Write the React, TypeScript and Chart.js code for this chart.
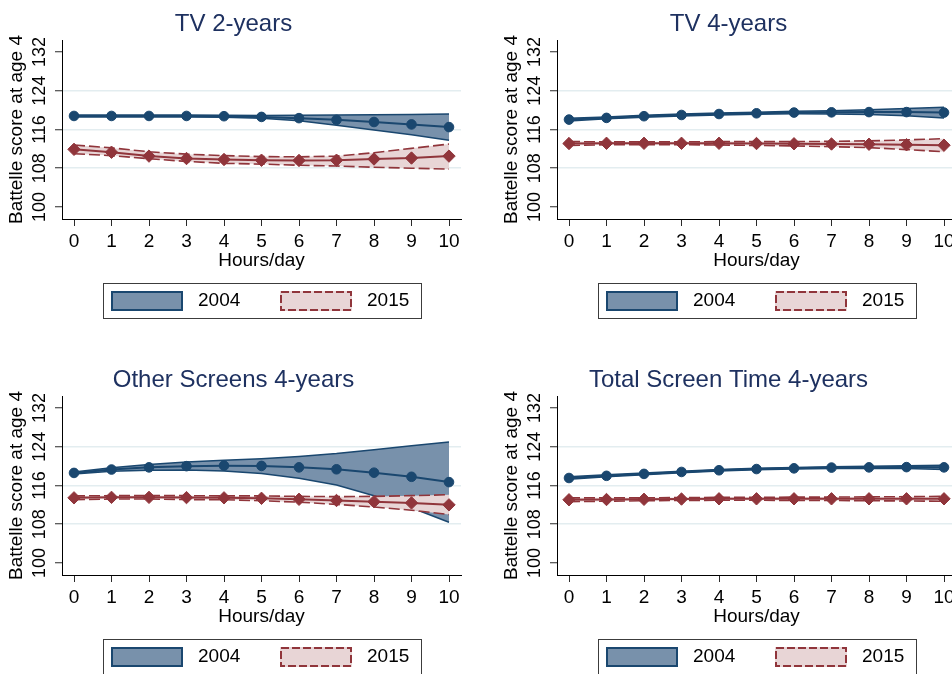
import React, { useEffect, useRef } from "react";
import { Chart, registerables } from "chart.js";

Chart.register(...registerables);

// ---------- data ----------
const hours = [0, 1, 2, 3, 4, 5, 6, 7, 8, 9, 10];
const yTickValues = [100, 108, 116, 124, 132];
const yGridValues = [108, 116, 124];
const yMin = 97.5;
const yMax = 134.5;
const xMin = -0.32;
const xMax = 10.32;

const legendLabels = ["2004", "2015"];
const yAxisTitle = "Battelle score at age 4";
const xAxisTitle = "Hours/day";
const panelTitles = ["TV 2-years", "TV 4-years", "Other Screens 4-years", "Total Screen Time 4-years"];

// TV 2-years
const tv2Mean2004 = [118.8, 118.8, 118.8, 118.8, 118.75, 118.6, 118.35, 118.0, 117.55, 117.05, 116.5];
const tv2Hi2004 = [119.0, 119.0, 119.0, 119.0, 118.95, 118.9, 118.95, 119.0, 119.05, 119.1, 119.2];
const tv2Lo2004 = [118.6, 118.6, 118.6, 118.6, 118.55, 118.3, 117.8, 116.9, 115.9, 114.9, 113.8];
const tv2Mean2015 = [111.9, 111.3, 110.5, 110.0, 109.8, 109.65, 109.6, 109.65, 109.9, 110.1, 110.5];
const tv2Hi2015 = [112.8, 112.2, 111.4, 110.9, 110.6, 110.4, 110.35, 110.5, 111.2, 112.1, 113.0];
const tv2Lo2015 = [111.0, 110.6, 109.95, 109.4, 109.0, 108.85, 108.6, 108.45, 108.2, 108.0, 107.8];

// TV 4-years
const tv4Mean2004 = [118.05, 118.4, 118.75, 119.0, 119.2, 119.35, 119.5, 119.55, 119.6, 119.6, 119.5];
const tv4Hi2004 = [118.35, 118.6, 118.95, 119.2, 119.4, 119.55, 119.75, 119.9, 120.1, 120.35, 120.6];
const tv4Lo2004 = [117.75, 118.2, 118.55, 118.8, 119.0, 119.15, 119.25, 119.2, 119.1, 118.85, 118.4];
const tv4Mean2015 = [113.1, 113.15, 113.15, 113.15, 113.15, 113.1, 113.05, 113.0, 112.95, 112.85, 112.75];
const tv4Hi2015 = [113.5, 113.45, 113.45, 113.45, 113.5, 113.5, 113.5, 113.55, 113.65, 113.85, 114.1];
const tv4Lo2015 = [112.7, 112.85, 112.85, 112.85, 112.8, 112.7, 112.6, 112.45, 112.25, 111.85, 111.4];

// Other Screens 4-years
const osMean2004 = [118.6, 119.3, 119.75, 120.0, 120.1, 120.05, 119.75, 119.35, 118.65, 117.8, 116.7];
const osHi2004 = [118.8, 119.65, 120.35, 120.85, 121.2, 121.55, 122.0, 122.6, 123.4, 124.2, 125.0];
const osLo2004 = [118.4, 118.95, 119.15, 119.2, 119.0, 118.5, 117.5, 116.1, 113.9, 111.4, 108.4];
const osMean2015 = [113.45, 113.55, 113.55, 113.5, 113.45, 113.35, 113.15, 112.9, 112.65, 112.4, 112.0];
const osHi2015 = [113.85, 113.9, 113.9, 113.9, 113.85, 113.85, 113.75, 113.7, 113.75, 113.9, 114.1];
const osLo2015 = [113.05, 113.2, 113.2, 113.1, 113.05, 112.85, 112.55, 112.1, 111.55, 110.9, 110.0];

// Total Screen Time 4-years
const tsMean2004 = [117.55, 118.0, 118.4, 118.8, 119.15, 119.4, 119.55, 119.7, 119.75, 119.8, 119.75];
const tsHi2004 = [117.8, 118.2, 118.6, 118.95, 119.3, 119.55, 119.7, 119.9, 120.0, 120.1, 120.2];
const tsLo2004 = [117.3, 117.8, 118.2, 118.65, 119.0, 119.25, 119.4, 119.5, 119.5, 119.5, 119.3];
const tsMean2015 = [113.05, 113.1, 113.15, 113.2, 113.25, 113.25, 113.25, 113.25, 113.25, 113.25, 113.25];
const tsHi2015 = [113.45, 113.45, 113.45, 113.5, 113.55, 113.55, 113.6, 113.6, 113.65, 113.7, 113.75];
const tsLo2015 = [112.65, 112.75, 112.85, 112.9, 112.95, 112.95, 112.9, 112.9, 112.85, 112.8, 112.75];

// ---------- styles ----------
const FONT = '"Liberation Sans", Arial, Helvetica, sans-serif';
const NAVY = "#1a476f";
const MAROON = "#90353b";
const BLUE_FILL = "#7891ab";
const PINK_FILL = "#e8d5d6";
const GRID = "#e3edf0";
const TITLE_COLOR = "#1e3160";
const PANEL_W = 495;
const PANEL_H = 356;

const panels = [
  { title: panelTitles[0], m04: tv2Mean2004, hi04: tv2Hi2004, lo04: tv2Lo2004, m15: tv2Mean2015, hi15: tv2Hi2015, lo15: tv2Lo2015, col: 0, row: 0 },
  { title: panelTitles[1], m04: tv4Mean2004, hi04: tv4Hi2004, lo04: tv4Lo2004, m15: tv4Mean2015, hi15: tv4Hi2015, lo15: tv4Lo2015, col: 1, row: 0 },
  { title: panelTitles[2], m04: osMean2004, hi04: osHi2004, lo04: osLo2004, m15: osMean2015, hi15: osHi2015, lo15: osLo2015, col: 0, row: 1 },
  { title: panelTitles[3], m04: tsMean2004, hi04: tsHi2004, lo04: tsLo2004, m15: tsMean2015, hi15: tsHi2015, lo15: tsLo2015, col: 1, row: 1 },
];

type PanelData = (typeof panels)[number];

function Panel({ p }: { p: PanelData }) {
  const ref = useRef<HTMLCanvasElement>(null);

  useEffect(() => {
    const canvas = ref.current;
    if (!canvas) return;
    const pts = (arr: number[]) => arr.map((v, i) => ({ x: hours[i], y: v }));

    const decor = {
      id: "decor",
      afterDraw(chart: any) {
        const { ctx, chartArea } = chart;
        ctx.save();
        // title
        ctx.font = `24px ${FONT}`;
        ctx.fillStyle = TITLE_COLOR;
        ctx.textAlign = "center";
        ctx.textBaseline = "alphabetic";
        ctx.fillText(p.title, chartArea.left + 171.5, chartArea.top - 9.2);

        // legend
        const cx = Math.round((chartArea.left + chartArea.right) / 2);
        const fl = cx - 159;
        const ft = Math.round(chartArea.bottom) + 64;
        ctx.lineWidth = 1;
        ctx.strokeStyle = "#3c3c3c";
        ctx.setLineDash([]);
        ctx.strokeRect(fl + 0.5, ft + 0.5, 318, 35);

        const sy = ft + 8;
        // 2004 swatch
        ctx.fillStyle = BLUE_FILL;
        ctx.fillRect(fl + 8, sy, 72, 20);
        ctx.lineWidth = 2;
        ctx.strokeStyle = NAVY;
        ctx.strokeRect(fl + 9, sy + 1, 70, 18);
        // 2015 swatch
        ctx.fillStyle = PINK_FILL;
        ctx.fillRect(fl + 177, sy, 72, 20);
        ctx.strokeStyle = MAROON;
        ctx.setLineDash([8, 3]);
        ctx.strokeRect(fl + 178, sy + 1, 70, 18);
        ctx.setLineDash([]);

        ctx.font = `19px ${FONT}`;
        ctx.fillStyle = "#000";
        ctx.textAlign = "left";
        ctx.textBaseline = "middle";
        ctx.fillText(legendLabels[0], fl + 95, sy + 10);
        ctx.fillText(legendLabels[1], fl + 264, sy + 10);
        ctx.restore();
      },
    };

    const chart = new Chart(canvas, {
      type: "line",
      data: {
        datasets: [
          {
            label: legendLabels[1],
            data: pts(p.m15),
            borderColor: MAROON,
            borderWidth: 2,
            pointStyle: "rectRot",
            pointRadius: 6.2,
            pointBackgroundColor: MAROON,
            pointBorderColor: MAROON,
            pointBorderWidth: 1,
            fill: false,
            tension: 0,
          },
          {
            label: legendLabels[0],
            data: pts(p.m04),
            borderColor: NAVY,
            borderWidth: 2,
            pointStyle: "circle",
            pointRadius: 4.8,
            pointBackgroundColor: NAVY,
            pointBorderColor: NAVY,
            pointBorderWidth: 1,
            fill: false,
            tension: 0,
          },
          {
            label: "2015 lower",
            data: pts(p.lo15),
            borderColor: MAROON,
            borderWidth: 1.6,
            borderDash: [11, 4],
            pointRadius: 0,
            fill: false,
            tension: 0,
          },
          {
            label: "2015 upper",
            data: pts(p.hi15),
            borderColor: MAROON,
            borderWidth: 1.6,
            borderDash: [11, 4],
            pointRadius: 0,
            fill: "-1",
            backgroundColor: PINK_FILL,
            tension: 0,
          },
          {
            label: "2004 lower",
            data: pts(p.lo04),
            borderColor: NAVY,
            borderWidth: 1.5,
            pointRadius: 0,
            fill: false,
            tension: 0,
          },
          {
            label: "2004 upper",
            data: pts(p.hi04),
            borderColor: NAVY,
            borderWidth: 1.5,
            pointRadius: 0,
            fill: "-1",
            backgroundColor: BLUE_FILL,
            tension: 0,
          },
        ],
      },
      options: {
        responsive: false,
        animation: false,
        events: [],
        layout: { padding: { top: 40, right: 34, bottom: 82, left: 0 } },
        plugins: {
          legend: { display: false },
          title: { display: false },
          tooltip: { enabled: false },
        },
        scales: {
          x: {
            type: "linear",
            min: xMin,
            max: xMax,
            afterBuildTicks: (s: any) => {
              s.ticks = hours.map((v) => ({ value: v }));
            },
            afterFit: (s: any) => {
              s.height = 55;
            },
            ticks: {
              font: { family: FONT, size: 19 },
              color: "#000",
              padding: 4,
              maxRotation: 0,
              minRotation: 0,
              autoSkip: false,
            },
            grid: {
              drawOnChartArea: false,
              drawTicks: true,
              tickLength: 7,
              tickColor: "#2a2a2a",
              tickWidth: 1,
            },
            border: { display: true, color: "#000", width: 1 },
            title: {
              display: true,
              text: xAxisTitle,
              font: { family: FONT, size: 19 },
              color: "#000",
              padding: { top: 0, bottom: 2 },
            },
          },
          y: {
            type: "linear",
            min: yMin,
            max: yMax,
            afterBuildTicks: (s: any) => {
              s.ticks = yTickValues.map((v) => ({ value: v }));
            },
            afterFit: (s: any) => {
              s.width = 62;
            },
            ticks: {
              font: { family: FONT, size: 18 },
              color: "#000",
              padding: 0,
              minRotation: 90,
              maxRotation: 90,
              crossAlign: "center",
              autoSkip: false,
            },
            grid: {
              color: (c: any) =>
                c.tick && yGridValues.includes(c.tick.value) ? GRID : "rgba(0,0,0,0)",
              lineWidth: 1.5,
              tickColor: "#2a2a2a",
              tickLength: 7,
              tickWidth: 1,
            },
            border: { display: true, color: "#000", width: 1 },
            title: {
              display: true,
              text: yAxisTitle,
              font: { family: FONT, size: 19 },
              color: "#000",
              padding: { top: 5.5, bottom: 0 },
            },
          },
        },
      },
      plugins: [decor],
    } as any);

    return () => chart.destroy();
  }, [p]);

  return (
    <div
      style={{
        position: "absolute",
        left: p.col * PANEL_W,
        top: p.row * PANEL_H,
        width: PANEL_W,
        height: PANEL_H,
      }}
    >
      <canvas ref={ref} width={PANEL_W} height={PANEL_H} style={{ display: "block" }} />
    </div>
  );
}

export default function App() {
  return (
    <div
      style={{
        position: "fixed",
        left: 0,
        top: 0,
        width: 952,
        height: 674,
        overflow: "hidden",
        background: "#fff",
      }}
    >
      {panels.map((p, i) => (
        <Panel key={i} p={p} />
      ))}
    </div>
  );
}
